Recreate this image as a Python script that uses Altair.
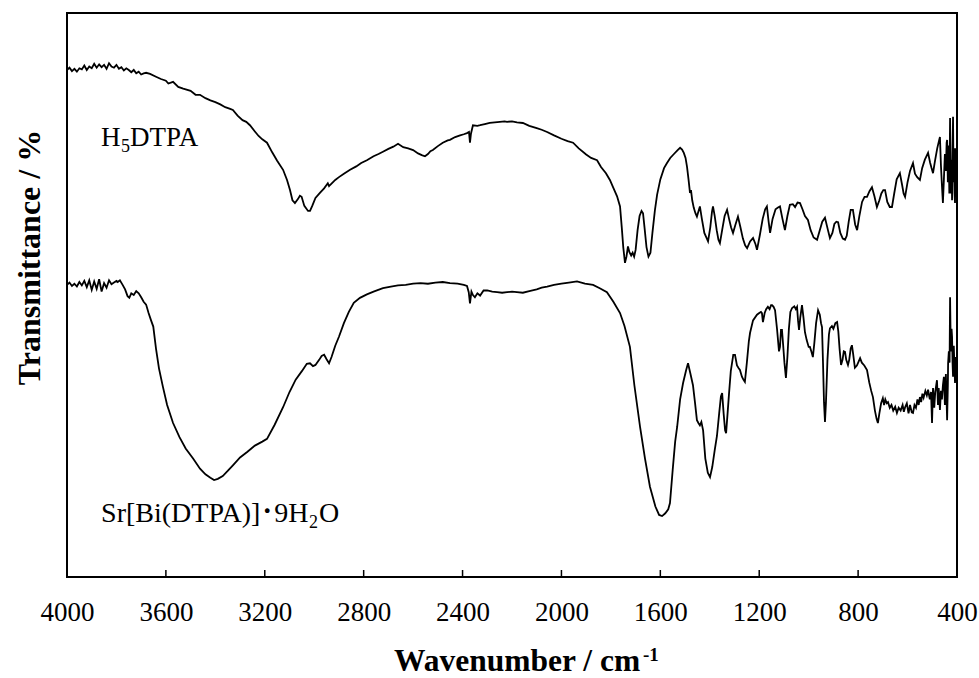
import altair as alt
import pandas as pd

SERIF = "'Times New Roman', 'Liberation Serif', serif"
SERIF_CJK = "'Times New Roman', 'Liberation Serif', 'Noto Sans CJK JP', serif"

# ---------------- data ----------------
tick_values = [4000, 3600, 3200, 2800, 2400, 2000, 1600, 1200, 800, 400]

h5dtpa_wn = [4000, 3990, 3980, 3970, 3960, 3950, 3940, 3930, 3920, 3910, 3900, 3890, 3880, 3870, 3860,
             3850, 3840, 3830, 3820, 3810, 3800, 3790, 3780, 3770, 3760, 3750, 3740, 3730, 3720, 3710,
             3700, 3690, 3680, 3664, 3640, 3620, 3600, 3590, 3571, 3550, 3530, 3500, 3480, 3462, 3440,
             3420, 3400, 3380, 3360, 3340, 3329, 3310, 3290, 3275, 3260, 3240, 3225, 3210, 3191, 3170,
             3150, 3126, 3110, 3098, 3088, 3078, 3066, 3058, 3051, 3040, 3025, 3017, 3008, 2995, 2977,
             2960, 2945, 2940, 2936, 2915, 2900, 2880, 2855, 2830, 2810, 2787, 2760, 2740, 2722, 2700,
             2680, 2661, 2640, 2620, 2600, 2580, 2565, 2552, 2540, 2530, 2520, 2500, 2480, 2460, 2451,
             2430, 2410, 2395, 2382, 2374, 2370, 2366, 2358, 2340, 2329, 2310, 2290, 2270, 2249, 2230,
             2220, 2200, 2180, 2156, 2130, 2100, 2080, 2058, 2030, 2000, 1975, 1953, 1930, 1900, 1880,
             1856, 1840, 1820, 1804, 1790, 1775, 1763, 1756, 1750, 1743, 1737, 1731, 1725, 1718, 1712,
             1706, 1700, 1692, 1684, 1676, 1670, 1664, 1656, 1648, 1640, 1632, 1622, 1613, 1600, 1585,
             1573, 1560, 1545, 1530, 1520, 1512, 1505, 1498, 1492, 1486, 1480, 1476, 1471, 1465, 1458,
             1452, 1446, 1440, 1432, 1422, 1414, 1407, 1398, 1391, 1387, 1380, 1372, 1365, 1359, 1350,
             1340, 1330, 1322, 1314, 1306, 1296, 1286, 1276, 1266, 1257, 1249, 1237, 1225, 1215, 1209,
             1198, 1186, 1176, 1169, 1162, 1156, 1146, 1134, 1124, 1116, 1106, 1096, 1086, 1076, 1064,
             1055, 1045, 1035, 1025, 1015, 1003, 992, 980, 966, 955, 945, 934, 922, 914, 904,
             896, 888, 881, 872, 862, 853, 846, 838, 830, 821, 812, 804, 795, 784, 774,
             764, 754, 744, 734, 724, 714, 706, 698, 691, 682, 672, 663, 654, 644, 631,
             622, 616, 610, 600, 590, 578, 570, 561, 550, 541, 530, 517, 509, 503, 497,
             489, 480, 472, 469, 465, 461, 457, 453, 449, 445, 442, 440, 437, 434, 431,
             428, 426, 424, 422, 420, 418, 416, 414, 412, 410, 408, 406, 404, 402, 400]
h5dtpa_T = [89.9, 90.3, 89.7, 90.1, 89.6, 90.2, 90.0, 90.7, 89.9, 90.5, 90.2, 91.0, 90.3, 90.9, 90.4,
            90.8, 90.1, 91.1, 90.5, 90.3, 90.8, 90.1, 90.4, 89.8, 90.2, 89.9, 89.5, 89.9, 89.3, 89.6,
            89.1, 89.3, 89.4, 89.2, 88.7, 88.3, 88.0, 87.5, 87.8, 86.9, 86.6, 86.2, 85.5, 85.5, 84.9,
            84.5, 84.2, 83.8, 83.3, 83.0, 82.8, 81.8, 81.0, 80.7, 80.1, 79.0, 78.2, 77.6, 77.0, 75.3,
            73.8, 72.2, 70.4, 68.6, 66.8, 66.3, 67.0, 67.6, 67.4, 65.8, 64.9, 64.9, 65.8, 67.2, 68.1,
            68.9, 69.8, 69.3, 69.5, 70.4, 70.9, 71.5, 72.2, 72.8, 73.4, 73.9, 74.6, 75.0, 75.4, 75.9,
            76.3, 76.8, 76.2, 76.0, 75.7, 75.1, 74.8, 74.6, 75.0, 75.5, 75.7, 76.4, 77.0, 77.4, 77.5,
            78.0, 78.3, 78.5, 78.7, 78.9, 77.0, 78.6, 80.1, 80.0, 80.1, 80.3, 80.5, 80.6, 80.7, 80.8,
            80.7, 80.8, 80.6, 80.5, 80.0, 79.6, 79.3, 78.9, 78.3, 77.7, 77.3, 77.0, 76.0, 74.9, 74.3,
            73.9, 72.7, 71.6, 70.4, 69.0, 67.5, 65.7, 62.0, 58.5, 55.7, 56.8, 58.6, 57.6, 57.0, 57.5,
            56.8, 58.0, 61.5, 64.0, 64.9, 64.5, 62.0, 58.5, 56.8, 57.5, 61.0, 65.0, 67.8, 70.5, 72.5,
            73.4, 74.3, 75.0, 75.7, 76.1, 75.8, 75.2, 74.3, 72.7, 70.5, 68.1, 68.6, 66.8, 65.5, 64.5,
            63.9, 64.8, 65.7, 63.5, 61.0, 60.2, 59.5, 62.0, 64.8, 65.7, 64.0, 61.5, 59.8, 59.2, 61.5,
            64.0, 65.1, 63.5, 62.0, 61.0, 62.5, 63.9, 62.0, 60.0, 58.8, 58.3, 59.5, 60.1, 59.0, 58.0,
            60.5, 63.5, 65.2, 65.7, 63.0, 61.0, 63.5, 65.2, 65.5, 65.7, 63.5, 61.5, 64.0, 66.0, 66.1,
            65.6, 66.4, 66.3, 65.2, 64.0, 63.3, 61.5, 60.2, 59.8, 61.5, 63.0, 63.7, 61.5, 60.1, 61.0,
            62.6, 63.0, 62.9, 61.0, 60.0, 59.8, 60.5, 63.0, 65.1, 65.1, 62.5, 61.5, 64.0, 66.5, 67.4,
            67.4, 68.4, 69.1, 67.5, 65.6, 66.8, 68.0, 68.6, 68.6, 66.5, 65.6, 65.6, 68.0, 70.5, 71.6,
            69.5, 68.0, 67.4, 70.0, 72.0, 73.4, 71.5, 70.9, 70.4, 72.5, 74.0, 75.2, 73.5, 72.5, 71.6,
            73.8, 76.0, 77.5, 78.0, 73.0, 69.5, 66.3, 70.5, 75.0, 72.0, 77.0, 77.5, 70.0, 76.5, 68.0,
            81.4, 73.0, 68.0, 74.0, 66.8, 75.0, 81.6, 70.0, 76.0, 68.0, 66.3, 76.0, 70.0, 74.0, 71.0]

srbi_wn = [4000, 3990, 3980, 3970, 3960, 3950, 3940, 3930, 3920, 3910, 3900, 3890, 3880, 3870, 3860,
           3850, 3840, 3830, 3820, 3810, 3800, 3795, 3786, 3775, 3765, 3755, 3748, 3740, 3730, 3720,
           3710, 3700, 3690, 3680, 3670, 3660, 3651, 3640, 3628, 3612, 3595, 3571, 3545, 3520, 3490,
           3462, 3440, 3420, 3405, 3390, 3370, 3350, 3329, 3300, 3270, 3240, 3210, 3191, 3160, 3126,
           3100, 3075, 3050, 3030, 3017, 3005, 2995, 2980, 2970, 2960, 2950, 2940, 2930, 2915, 2900,
           2880, 2860, 2840, 2815, 2787, 2760, 2722, 2690, 2661, 2630, 2600, 2570, 2540, 2510, 2480,
           2451, 2420, 2395, 2382, 2375, 2370, 2364, 2358, 2350, 2340, 2329, 2315, 2300, 2280, 2260,
           2240, 2220, 2200, 2180, 2156, 2130, 2100, 2080, 2058, 2030, 2000, 1970, 1937, 1905, 1872,
           1845, 1816, 1790, 1763, 1745, 1723, 1705, 1682, 1662, 1642, 1620, 1605, 1593, 1580, 1568,
           1561, 1550, 1540, 1532, 1520, 1508, 1496, 1488, 1478, 1468, 1460, 1452, 1446, 1440, 1434,
           1427, 1418, 1408, 1399, 1390, 1380, 1371, 1362, 1355, 1350, 1344, 1338, 1334, 1328, 1322,
           1315, 1305, 1298, 1290, 1283, 1278, 1270, 1264, 1258, 1250, 1242, 1237, 1225, 1209, 1200,
           1193, 1189, 1185, 1178, 1172, 1165, 1158, 1152, 1148, 1142, 1136, 1128, 1120, 1116, 1112,
           1108, 1103, 1098, 1092, 1086, 1080, 1074, 1067, 1058, 1052, 1047, 1043, 1039, 1034, 1027,
           1021, 1015, 1008, 1000, 995, 989, 983, 977, 970, 962, 955, 950, 946, 942, 938,
           934, 930, 924, 918, 914, 906, 900, 892, 885, 880, 875, 869, 863, 858, 853,
           848, 841, 836, 830, 825, 820, 813, 805, 798, 792, 785, 775, 764, 755, 747,
           740, 732, 725, 720, 714, 707, 700, 695, 690, 684, 679, 672, 665, 658, 650,
           643, 636, 628, 620, 615, 610, 603, 596, 590, 583, 578, 572, 566, 560, 555,
           550, 545, 540, 535, 528, 522, 517, 510, 505, 501, 497, 492, 488, 484, 481,
           477, 474, 469, 465, 461, 457, 453, 449, 445, 440, 437, 436, 433, 430, 428,
           425, 422, 420, 418, 416, 413, 410, 408, 405, 402, 400]
srbi_T = [51.8, 52.2, 51.6, 52.0, 51.5, 52.3, 51.7, 52.5, 51.4, 52.6, 50.9, 52.4, 51.1, 52.8, 50.6,
          52.1, 51.3, 52.6, 51.9, 52.2, 52.5, 52.3, 52.6, 51.8, 51.0, 49.8, 49.5, 50.3, 50.0, 50.7,
          50.3, 49.6, 48.8, 48.3, 46.8, 45.5, 44.4, 40.5, 37.0, 33.7, 30.5, 27.3, 24.8, 22.8, 21.0,
          19.2, 18.2, 17.6, 17.2, 17.4, 17.9, 18.8, 19.8, 21.2, 22.2, 23.3, 24.0, 24.5, 27.0, 30.1,
          32.8, 35.0, 36.5, 37.8, 37.9, 37.4, 37.6, 38.5, 39.2, 39.4, 38.6, 37.9, 39.0, 41.0, 42.6,
          45.0, 47.0, 48.6, 49.5, 50.1, 50.6, 51.2, 51.5, 51.7, 51.8, 52.0, 52.1, 52.0, 52.2, 52.3,
          52.1, 52.0, 51.8, 51.6, 50.5, 48.5, 50.6, 50.0, 49.6, 50.3, 49.9, 50.8, 50.8, 50.6, 50.5,
          50.4, 50.5, 50.6, 50.5, 50.4, 50.7, 51.0, 51.3, 51.5, 51.8, 52.0, 52.2, 52.4, 52.0, 51.8,
          51.2, 50.5, 48.8, 46.8, 44.5, 40.8, 34.0, 26.6, 21.0, 16.0, 12.5, 11.0, 10.8, 11.3, 12.0,
          13.1, 19.0, 24.0, 26.6, 31.5, 34.4, 36.6, 37.9, 36.0, 34.0, 31.0, 27.8, 27.3, 26.9, 27.5,
          26.0, 21.0, 18.5, 17.7, 19.5, 22.5, 25.0, 29.0, 32.0, 32.6, 29.0, 26.0, 25.5, 29.0, 32.6,
          36.5, 39.4, 39.4, 37.5, 37.0, 36.7, 35.5, 35.0, 34.6, 38.0, 41.8, 43.3, 45.5, 46.5, 46.8,
          47.0, 46.8, 45.2, 46.8, 47.5, 47.9, 47.5, 48.2, 48.2, 47.9, 47.3, 44.0, 40.0, 40.8, 43.8,
          43.8, 41.0, 38.0, 35.3, 39.0, 44.0, 47.0, 47.7, 48.0, 47.5, 47.9, 45.5, 43.8, 46.0, 48.2,
          46.0, 43.4, 42.0, 40.8, 40.8, 40.0, 39.0, 41.5, 45.0, 47.3, 46.5, 45.0, 44.3, 38.0, 31.0,
          27.5, 31.0, 38.5, 43.0, 44.1, 44.5, 44.0, 45.0, 45.2, 43.5, 40.5, 37.6, 38.5, 40.0, 39.9,
          38.5, 37.6, 38.5, 40.5, 41.1, 39.5, 37.1, 37.5, 38.2, 38.8, 38.0, 37.5, 36.7, 34.5, 33.0,
          31.9, 29.5, 28.0, 27.3, 29.0, 30.8, 31.7, 30.5, 31.5, 30.8, 31.0, 30.0, 30.5, 29.5, 30.2,
          29.1, 30.0, 29.5, 30.5, 29.3, 30.1, 30.8, 29.0, 30.5, 29.2, 29.1, 30.5, 30.0, 31.5, 30.5,
          31.9, 31.0, 32.5, 31.8, 33.0, 32.2, 33.2, 31.5, 32.8, 27.3, 33.5, 30.0, 32.8, 34.0, 34.9,
          30.5, 33.5, 29.6, 33.0, 31.5, 34.0, 35.5, 30.5, 36.0, 27.8, 34.0, 37.9, 40.0, 38.0, 49.6,
          40.0, 44.0, 42.6, 38.0, 35.5, 41.0, 37.0, 34.4, 39.0, 36.0, 37.0]

series_names = ["H5DTPA", "Sr[Bi(DTPA)]・9H2O"]

# ---------------- build tables ----------------
rows = []
for name, wn, tv in [(series_names[0], h5dtpa_wn, h5dtpa_T), (series_names[1], srbi_wn, srbi_T)]:
    for i, (w, t) in enumerate(zip(wn, tv)):
        rows.append({"series": name, "idx": i, "w": w, "T": t})
spec = pd.DataFrame(rows)

xscale = alt.Scale(domain=[400, 4000], reverse=True, nice=False, zero=False)
yscale = alt.Scale(domain=[0, 100], nice=False, zero=False)

x_axis = alt.Axis(values=tick_values, title=None, ticks=False, domain=False, grid=False,
                  labelFont=SERIF, labelFontSize=27, labelColor="black", labelPadding=43,
                  labelBaseline="alphabetic", labelFlush=False, labelOverlap=False, format="d")
y_axis = alt.Axis(labels=False, ticks=False, domain=False, grid=False,
                  title="Transmittance / %", titleFont=SERIF, titleFontSize=32,
                  titleFontWeight="bold", titleColor="black", titleX=-28, titleY=244,
                  titleAngle=270, titleBaseline="alphabetic", titleAlign="center")

X = alt.X("w:Q", scale=xscale, axis=x_axis)
Y = alt.Y("T:Q", scale=yscale, axis=y_axis)

lines = alt.Chart(spec).mark_line(color="black", strokeWidth=1.8).encode(
    x=X, y=Y, detail="series:N", order="idx:Q",
)

ticks = alt.Chart(pd.DataFrame({"w": tick_values})).mark_rule(color="black", strokeWidth=1.5).encode(
    x=X, y=alt.value(564), y2=alt.value(557),
)


def piece(text, w, t, dx, dy=0, size=27, font=SERIF, align="left"):
    df = pd.DataFrame({"w": [w], "T": [t], "label": [text]})
    return alt.Chart(df).mark_text(align=align, baseline="alphabetic", dx=dx, dy=dy,
                                   fontSize=size, font=font, color="black").encode(
        x=X, y=Y, text="label:N",
    )


# label anchors (wavenumber, transmittance)
h5_anchor = (3862, 76.4)
sr_anchor = (3862, 9.8)

labels = [
    piece("H", *h5_anchor, dx=0),
    piece("5", *h5_anchor, dx=20, dy=6, size=18),
    piece("DTPA", *h5_anchor, dx=29),
    piece("Sr[Bi(DTPA)]\uff659H", *sr_anchor, dx=0, size=28, font=SERIF_CJK),
    piece("2", *sr_anchor, dx=208, dy=6, size=18),
    piece("O", *sr_anchor, dx=218, size=28),
]


def title_piece(text, px, py, size):
    return alt.Chart(pd.DataFrame({"label": [text]})).mark_text(
        align="left", baseline="alphabetic", fontSize=size, font=SERIF,
        fontWeight="bold", color="black").encode(
        x=alt.value(px), y=alt.value(py), text="label:N")


xtitle = [title_piece("Wavenumber / cm", 327, 658, 31.5),
          title_piece("-1", 576, 648, 19)]

chart = alt.layer(lines, ticks, *labels, *xtitle).properties(
    width=890, height=564,
    autosize=alt.AutoSizeParams(type="none"),
    padding={"left": 67, "top": 13, "right": 22, "bottom": 101},
    background="white",
).configure_view(stroke="black", strokeWidth=2)

chart.save("out.html", embed_options={"renderer": "svg", "actions": False})
